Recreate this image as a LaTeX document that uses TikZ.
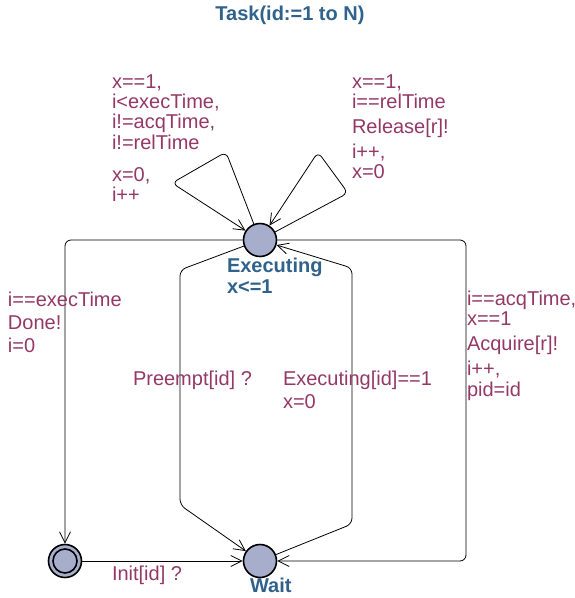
\documentclass[tikz,border=0pt]{standalone}
\usepackage{fontspec}
\setmainfont{Liberation Sans}
\usetikzlibrary{arrows.meta}
\definecolor{labc}{RGB}{148,56,103}
\definecolor{locc}{RGB}{48,98,140}
\definecolor{locfill}{RGB}{166,174,204}
\newcommand\lblock[1]{\begin{tabular}[t]{@{}l@{}}#1\end{tabular}}
\begin{document}
\begin{tikzpicture}[x=1pt,y=-1pt,
  loc/.style={circle, draw=black, line width=1.6pt, fill=locfill,
    minimum size=33pt, inner sep=0pt},
  edge/.style={draw=black, line width=0.8pt, rounded corners=6pt,
    -{Straight Barb[length=11pt,width=11pt,line width=0.8pt]}},
  lab/.style={anchor=base west, inner sep=0pt, outer sep=0pt, text=labc,
    font=\fontsize{20}{20}\selectfont},
  locname/.style={anchor=base west, inner sep=0pt, outer sep=0pt, text=locc,
    font=\fontsize{20}{21}\selectfont\bfseries}]
\useasboundingbox (0,0) rectangle (574,598);

% template title
\node[locname, anchor=base] (title) at (290,20) {Task(id:=1 to N)};

% locations
\node[loc] (exec) at (260,240) {};
\node[loc] (wait) at (260,561) {};
\node[loc] (init) at (65,561) {};
\draw[line width=1.6pt] (init) circle (12pt);

\node[locname] (execname) at (227,272) {\lblock{Executing\\x<=1}};
\node[locname] (waitname) at (250,592) {Wait};

% bend points
\coordinate (l1) at (226,152);
\coordinate (l2) at (172,183);
\coordinate (r1) at (348,193);
\coordinate (r2) at (318,152);
\coordinate (rc) at (466,0);
\coordinate (p1) at (180,270);
\coordinate (p2) at (180,505);
\coordinate (q1) at (352,524);
\coordinate (q2) at (352,268);

% edges
\draw[edge] (exec) -- (l1) -- (l2) -- (exec);
\draw[edge] (exec) -- (r1) -- (r2) -- (exec);
\draw[edge] (exec.west) -| (init.north);
\draw[edge] (exec.east) -- (exec.east -| rc) -- (wait.east -| rc) -- (wait.east);
\draw[edge] (exec) -- (p1) -- (p2) -- (wait);
\draw[edge] (wait) -- (q1) -- (q2) -- (exec);
\draw[edge] (init.east) -- (wait.west);

% edge labels
\node[lab] (lloop) at (112,88)
  {\lblock{x==1,\\ i<execTime,\\ i!=acqTime,\\ i!=relTime\\[12pt] x=0,\\ i++}};
\node[lab] (rloop) at (352,88)
  {\lblock{x==1,\\ i==relTime\\[5pt] Release[r]!\\[4pt] i++,\\ x=0}};
\node[lab] (done) at (8,306)
  {\lblock{i==execTime\\[3pt] Done!\\[3pt] i=0}};
\node[lab] (acq) at (467,305)
  {\lblock{i==acqTime,\\ x==1\\[5pt] Acquire[r]!\\[5pt] i++,\\ pid=id}};
\node[lab] (pre) at (133,385) {Preempt[id] ?};
\node[lab] (resume) at (283,385) {\lblock{Executing[id]==1\\[3pt] x=0}};
\node[lab] (initlab) at (112,580) {Init[id] ?};
\end{tikzpicture}
\end{document}
